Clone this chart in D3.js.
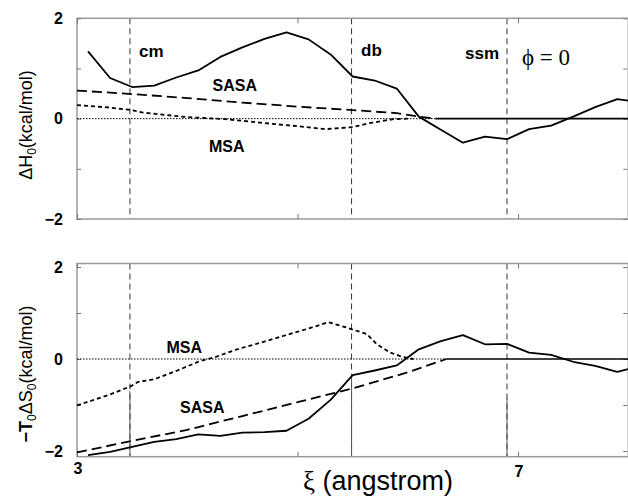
<!DOCTYPE html>
<html>
<head>
<meta charset="utf-8">
<script src="https://cdn.jsdelivr.net/npm/d3@7"></script>
<style>
  html, body { margin: 0; padding: 0; background: #fff; }
  svg { display: block; }
</style>
</head>
<body>
<svg id="chart" width="628" height="496"></svg>
<script>
// ---------------- data ----------------
const xTicks = [3, 5, 7];
const xTickLabels = ["3", "", "7"];
const yTicks = [-2, -1, 0, 1, 2];
const yTickLabels = ["\u22122", "", "0", "", "2"];

// markers (vertical dashed lines)
const markerNames = ["cm", "db", "ssm"];
const markerX = [3.48, 5.49, 6.90];
const markerSolidBelow = [-0.70, -0.33, -0.85]; // lower panel: solid part below this value

// total curves (solid)
const totalX = [3.1, 3.3, 3.5, 3.7, 3.9, 4.1, 4.3, 4.5, 4.7, 4.9, 5.1, 5.3, 5.5,
                5.7, 5.9, 6.1, 6.3, 6.5, 6.7, 6.9, 7.1, 7.3, 7.5, 7.7, 7.9, 8.0];
const dH_total = [1.34, 0.81, 0.63, 0.66, 0.82, 0.96, 1.23, 1.42, 1.59, 1.72, 1.58, 1.28, 0.84,
                  0.76, 0.60, 0.04, -0.22, -0.48, -0.36, -0.41, -0.21, -0.14, 0.04, 0.23, 0.39, 0.36];
const TdS_total = [-2.09, -2.02, -1.91, -1.80, -1.74, -1.64, -1.67, -1.60, -1.59, -1.56, -1.30, -0.89, -0.35,
                   -0.25, -0.14, 0.21, 0.39, 0.52, 0.32, 0.33, 0.14, 0.09, -0.06, -0.15, -0.28, -0.22];

// SASA contributions (long dash)
const dH_SASA_x = [3.0, 3.5, 4.0, 4.5, 5.0, 5.5, 5.9, 6.1, 6.25];
const dH_SASA   = [0.56, 0.49, 0.41, 0.32, 0.24, 0.17, 0.11, 0.04, 0.0];
const TdS_SASA_x = [3.0, 3.5, 4.0, 4.5, 5.0, 5.5, 6.0, 6.35];
const TdS_SASA   = [-2.03, -1.78, -1.54, -1.24, -0.94, -0.64, -0.29, 0.0];

// MSA contributions (short dash)
const dH_MSA_x = [3.0, 3.3, 3.5, 3.6, 4.0, 4.35, 4.8, 5.0, 5.25, 5.5, 5.65, 5.87, 6.0];
const dH_MSA   = [0.27, 0.22, 0.17, 0.12, 0.03, -0.01, -0.11, -0.15, -0.21, -0.17, -0.09, -0.01, 0.0];
const TdS_MSA_x = [3.0, 3.3, 3.49, 3.55, 3.7, 3.9, 4.12, 4.24, 4.45, 4.66, 4.87, 5.11, 5.28, 5.45, 5.63, 5.72, 5.84, 5.96, 6.05];
const TdS_MSA   = [-1.01, -0.77, -0.59, -0.50, -0.44, -0.26, -0.04, 0.03, 0.21, 0.35, 0.50, 0.67, 0.80, 0.68, 0.54, 0.32, 0.14, 0.04, 0.0];

// ---------------- drawing ----------------
const svg = d3.select("#chart");
const SANS = "'Liberation Sans', Arial, Helvetica, sans-serif";
const SERIF = "'Liberation Serif', 'DejaVu Serif', 'Times New Roman', serif";

const x = d3.scaleLinear().domain([3, 8]).range([77, 628.3]);

const panels = [
  { y: d3.scaleLinear().domain([-2, 2]).range([219, 18.3]), frame: [18.3, 219],
    total: dH_total, sasaX: dH_SASA_x, sasa: dH_SASA, msaX: dH_MSA_x, msa: dH_MSA,
    lower: false, xLabels: false },
  { y: d3.scaleLinear().domain([-2, 2]).range([451, 267]), frame: [263.5, 456.7],
    total: TdS_total, sasaX: TdS_SASA_x, sasa: TdS_SASA, msaX: TdS_MSA_x, msa: TdS_MSA,
    lower: true, xLabels: true }
];

panels.forEach(p => {
  const g = svg.append("g");
  const y = p.y;
  const [ft, fb] = p.frame;
  const xl = x.range()[0], xr = x.range()[1];

  // vertical marker lines
  markerX.forEach((mx, i) => {
    g.append("line")
      .attr("x1", x(mx)).attr("x2", x(mx)).attr("y1", ft).attr("y2", fb)
      .attr("stroke", "#333").attr("stroke-width", 1).attr("stroke-dasharray", "6,4");
    if (p.lower) {
      g.append("line")
        .attr("x1", x(mx)).attr("x2", x(mx)).attr("y1", y(markerSolidBelow[i])).attr("y2", fb)
        .attr("stroke", "#555").attr("stroke-width", 1);
    }
  });

  // frame
  g.append("rect").attr("x", xl).attr("y", ft).attr("width", xr - xl).attr("height", fb - ft)
    .attr("fill", "none").attr("stroke", "#999").attr("stroke-width", 1.5);

  // x ticks (inward, top & bottom)
  const xAxisB = d3.axisTop(x).tickValues(xTicks).tickSize(5).tickFormat("");
  const xAxisT = d3.axisBottom(x).tickValues(xTicks).tickSize(5).tickFormat("");
  const gb = g.append("g").attr("transform", `translate(0,${fb})`).call(xAxisB);
  const gt = g.append("g").attr("transform", `translate(0,${ft})`).call(xAxisT);
  [gb, gt].forEach(a => { a.select(".domain").remove(); a.selectAll("line").attr("stroke", "#777"); });

  // y ticks (inward, left & right)
  const yAxisL = d3.axisRight(y).tickValues(yTicks).tickSize(4).tickFormat("");
  const yAxisR = d3.axisLeft(y).tickValues(yTicks).tickSize(4).tickFormat("");
  const gl = g.append("g").attr("transform", `translate(${xl},0)`).call(yAxisL);
  const gr = g.append("g").attr("transform", `translate(${xr - 1},0)`).call(yAxisR);
  [gl, gr].forEach(a => { a.select(".domain").remove(); a.selectAll("line").attr("stroke", "#777"); });

  // y tick labels
  g.selectAll(".ylab").data(yTicks).enter().append("text")
    .attr("x", 63).attr("y", d => y(d)).attr("dy", "0.36em")
    .attr("text-anchor", "end").attr("font-family", SANS).attr("font-weight", "bold")
    .attr("font-size", 16).text((d, i) => yTickLabels[i]);

  if (p.xLabels) {
    g.selectAll(".xlab").data(xTicks).enter().append("text")
      .attr("x", d => x(d) + 1).attr("y", (d, i) => i === 0 ? 474 : 477)
      .attr("text-anchor", "middle").attr("font-family", SANS).attr("font-weight", "bold")
      .attr("font-size", 16).text((d, i) => xTickLabels[i]);
  }

  // zero line (dotted), then solid where both contributions are zero
  const tailStart = Math.max(p.sasaX[p.sasaX.length - 1], p.msaX[p.msaX.length - 1]);
  g.append("line").attr("x1", xl).attr("x2", x(tailStart)).attr("y1", y(0)).attr("y2", y(0))
    .attr("stroke", "#000").attr("stroke-width", 1).attr("stroke-dasharray", "1.5,1.5");
  g.append("line").attr("x1", x(tailStart)).attr("x2", xr).attr("y1", y(0)).attr("y2", y(0))
    .attr("stroke", "#000").attr("stroke-width", 1.6);

  const line = d3.line().x(d => x(d[0])).y(d => y(d[1]));

  g.append("path").datum(d3.zip(p.msaX, p.msa)).attr("d", line)
    .attr("fill", "none").attr("stroke", "#000").attr("stroke-width", 1.8)
    .attr("stroke-dasharray", "4,3");
  g.append("path").datum(d3.zip(p.sasaX, p.sasa)).attr("d", line)
    .attr("fill", "none").attr("stroke", "#000").attr("stroke-width", 1.8)
    .attr("stroke-dasharray", "10,5");
  g.append("path").datum(d3.zip(totalX, p.total)).attr("d", line)
    .attr("fill", "none").attr("stroke", "#000").attr("stroke-width", 1.8)
    .attr("stroke-linejoin", "round");
});

// annotations
const bold = (t, px, py, fs) => svg.append("text").attr("x", px).attr("y", py)
  .attr("font-family", SANS).attr("font-weight", "bold").attr("font-size", fs).text(t);
bold(markerNames[0], 139, 56.5, 17);
bold(markerNames[1], 361, 56, 17);
bold(markerNames[2], 465, 59, 17);
bold("SASA", 212.5, 90.5, 16);
bold("MSA", 209, 151.5, 16);
bold("MSA", 166.5, 352.5, 16);
bold("SASA", 180, 412.5, 16);

svg.append("text").attr("x", 522).attr("y", 64.5)
  .attr("font-family", SERIF).attr("font-size", 23).text("\u03D5 = 0");

// x axis title
const xt = svg.append("text").attr("x", 303).attr("y", 490)
  .attr("font-family", SANS).attr("font-size", 27);
xt.append("tspan").attr("font-family", SERIF).text("\u03BE");
xt.append("tspan").text(" (angstrom)");

// y axis titles
const yt1 = svg.append("text").attr("transform", "translate(32,125) rotate(-90)")
  .attr("text-anchor", "middle").attr("font-family", SANS).attr("font-size", 18);
yt1.append("tspan").text("\u0394H");
yt1.append("tspan").attr("font-size", 12).attr("dy", 4).text("0");
yt1.append("tspan").attr("dy", -4).text("(kcal/mol)");

const yt2 = svg.append("text").attr("transform", "translate(32,374) rotate(-90)")
  .attr("text-anchor", "middle").attr("font-family", SANS).attr("font-size", 18);
yt2.append("tspan").attr("font-weight", "bold").text("\u2212T");
yt2.append("tspan").attr("font-size", 12).attr("dy", 4).text("0");
yt2.append("tspan").attr("dy", -4).text("\u0394S");
yt2.append("tspan").attr("font-size", 12).attr("dy", 4).text("0");
yt2.append("tspan").attr("dy", -4).text("(kcal/mol)");
</script>
</body>
</html>
